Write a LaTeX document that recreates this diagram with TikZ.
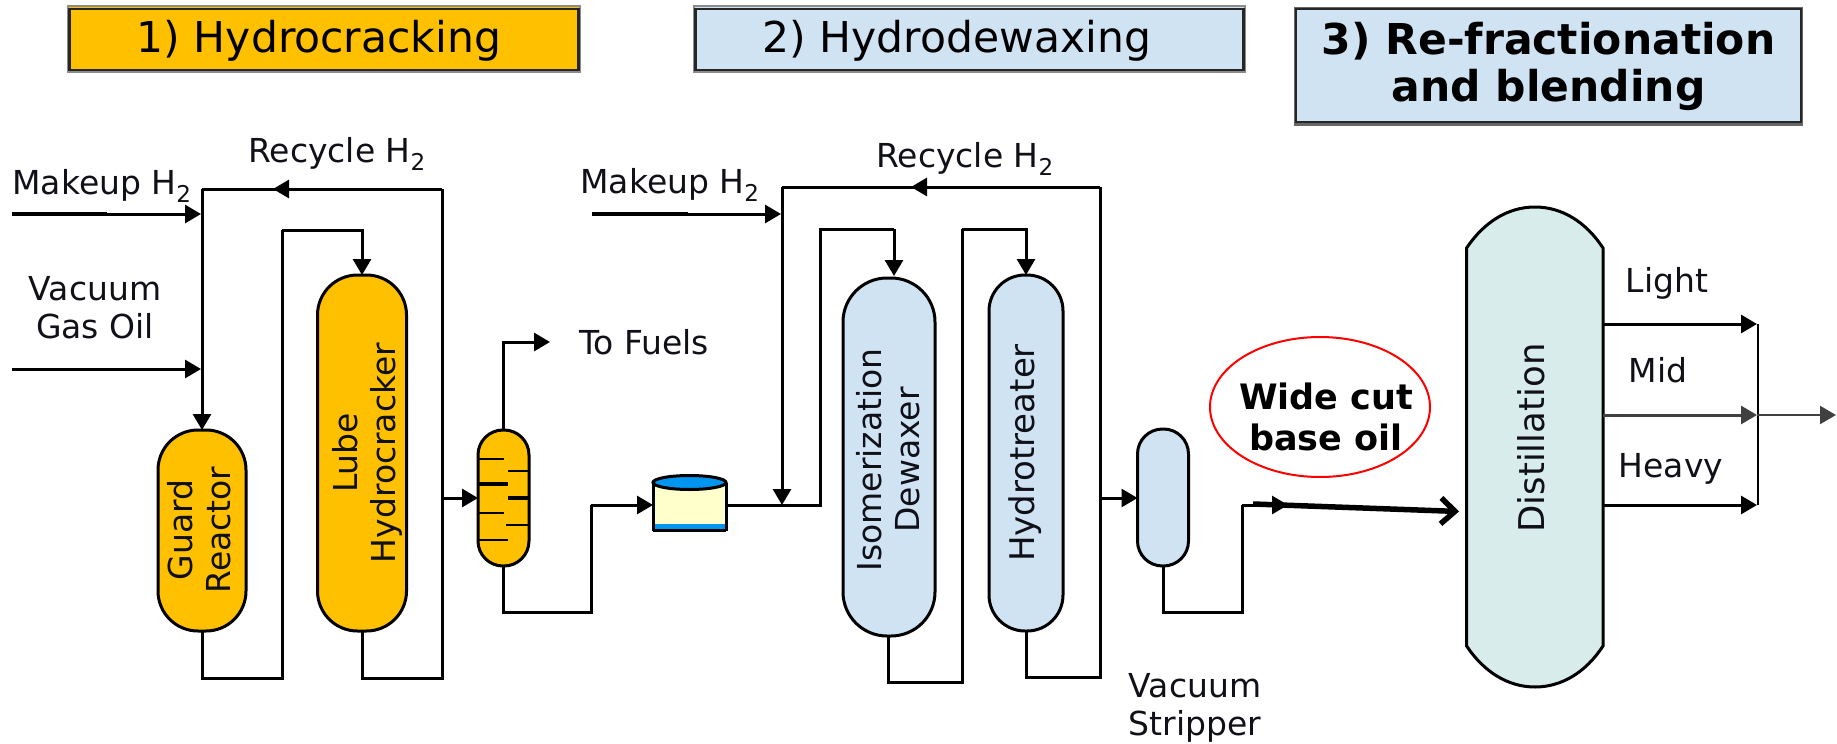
\documentclass[tikz,border=0pt]{standalone}
\usepackage{fontspec}
\setmainfont{DejaVu Sans}
\usetikzlibrary{arrows.meta,shapes.geometric}
\definecolor{amberfill}{HTML}{FFC000}
\definecolor{bluefill}{HTML}{D0E3F3}
\definecolor{distfill}{HTML}{D8ECEC}
\definecolor{drumblue}{HTML}{0096F0}
\definecolor{drumbody}{HTML}{FFFFCC}
\definecolor{inkc}{HTML}{101018}
\tikzset{
  flow/.style={line width=3pt,draw=black,line join=miter},
  tip/.style={-{Triangle[length=16pt,width=18pt]}},
  vessel/.style={draw=black,line width=3pt,inner sep=0pt,outer sep=0pt},
  lab/.style={font=\fontsize{33}{38}\selectfont,text=inkc,align=center,inner sep=0pt},
  vlab/.style={lab,rotate=90},
  head/.style={draw=black!45,line width=2.5pt,inner sep=0pt,outer sep=0pt},
  headin/.style={draw=black!85,line width=2.2pt},
  headtxt/.style={font=\fontsize{42.5}{47}\selectfont,text=black,align=center,inner sep=0pt},
  tray/.style={line width=2pt},
  traybold/.style={line width=3.6pt}
}
\newcommand{\Htwo}{H\textsubscript{2}}
\begin{document}
\begin{tikzpicture}[x=1pt,y=-1pt]
\useasboundingbox (0,0) rectangle (1837,744);
% headers
\node[head,fill=amberfill,minimum width=512pt,minimum height=66pt] (h1) at (324,39) {};
\draw[headin] (69.5,9) rectangle (578.5,70);
\node[head,fill=bluefill,minimum width=551pt,minimum height=66pt] (h2) at (969.5,39) {};
\draw[headin] (695.5,9) rectangle (1243.5,70);
\node[head,fill=bluefill,draw=black!60,minimum width=507pt,minimum height=116pt] (h3) at (1548.5,66.5) {};
\draw[headin,line width=1.5pt] (1296,9) rectangle (1801,122);
\node[headtxt] (t1) at (319,41) {1) Hydrocracking};
\node[headtxt] (t2) at (957,41) {2) Hydrodewaxing};
\node[headtxt,font=\fontsize{42.5}{47}\selectfont\bfseries] (t3) at (1548.5,66) {3) Re-fractionation\\and blending};
% vessels
\node[vessel,fill=amberfill,rounded corners=40pt,minimum width=88pt,minimum height=201pt] (guard) at (202,530.5) {};
\node[vessel,fill=amberfill,rounded corners=40pt,minimum width=89pt,minimum height=356pt] (lube) at (362,453) {};
\node[vessel,fill=amberfill,rounded corners=25pt,minimum width=51pt,minimum height=136pt] (flash) at (503.5,498) {};
\node[vessel,fill=bluefill,rounded corners=44pt,minimum width=92pt,minimum height=358pt] (dewax) at (889,457) {};
\node[vessel,fill=bluefill,rounded corners=36pt,minimum width=74pt,minimum height=356pt] (hydro) at (1026,453) {};
\node[vessel,fill=bluefill,rounded corners=25pt,minimum width=51pt,minimum height=137pt] (strip) at (1163,497.5) {};
% drum
\node[inner sep=0pt,outer sep=0pt,minimum width=74pt,minimum height=48pt] (drum) at (689.5,506) {};
\fill[drumbody] (653,483) rectangle (726,524);
\fill[drumblue] (653,524) rectangle (726,530);
\draw[line width=3pt] (653,483) -- (653,531) (726,483) -- (726,531) (653,530.5) -- (726,530.5);
\draw[line width=3pt,fill=drumblue] (689.5,482.5) ellipse [x radius=36.5,y radius=7];
% distillation
\node[inner sep=0pt,outer sep=0pt,minimum width=136.5pt,minimum height=480pt] (dist) at (1535,447) {};
\draw[vessel,fill=distfill] (1466.6,248) .. controls (1484,222) and (1508,207) .. (1535,207) .. controls (1562,207) and (1586,222) .. (1603,248) -- (1603,646) .. controls (1586,672) and (1562,687) .. (1535,687) .. controls (1508,687) and (1484,672) .. (1466.6,646) -- cycle;
\node[vlab,font=\fontsize{35.5}{40}\selectfont] (ldist) at (1531,438) {Distillation};
% trays
\foreach \a/\b/\c/\s in {478/504/459/tray,508/529/471/tray,478/508/484/traybold,508/529/498/traybold,478/504/513/tray,506/529/524.5/tray,478/508/540/tray}
  \draw[\s] (\a,\c) -- (\b,\c);
% vessel labels
\node[vlab] (lguard) at (199,530) {Guard\\Reactor};
\node[vlab] (llube) at (367,453) {Lube\\Hydrocracker};
\node[vlab] (ldewax) at (888,460) {Isomerization\\Dewaxer};
\node[vlab,font=\fontsize{34}{38}\selectfont] (lhydro) at (1025,453) {Hydrotreater};
% free ends and bends
\coordinate (mk1) at (12,214);
\coordinate (mk1t) at (107,214);
\coordinate (vg1) at (12,369);
\coordinate (j1) at (201,214);
\coordinate (j2) at (201,369);
\coordinate (top1) at (202,189);
\coordinate (rc1) at (442,189);
\coordinate (rc1b) at (442,678);
\coordinate (rc1a) at (273,189);
\coordinate (bot1) at (282,678);
\coordinate (in1) at (282,230);
\coordinate (fl1) at (442,498);
\coordinate (fu2) at (550,342);
\coordinate (bf2) at (591,612);
\coordinate (bf3) at (591,505);
\coordinate (dr1) at (653,505);
\coordinate (dr2) at (726,505);
\coordinate (mk2) at (592,214);
\coordinate (mk2t) at (688,214);
\coordinate (j3) at (781,214);
\coordinate (top2) at (782,187);
\coordinate (rc2) at (1100,187);
\coordinate (rc2a) at (911,187);
\coordinate (rc2b) at (1100,677);
\coordinate (j4) at (782,505);
\coordinate (o1) at (820,505);
\coordinate (o2) at (820,229);
\coordinate (o3) at (894,229);
\coordinate (o4) at (894,276);
\coordinate (d1) at (888,636);
\coordinate (d2) at (888,682);
\coordinate (d3) at (962,682);
\coordinate (d4) at (962,229);
\coordinate (fl2) at (1100,498);
\coordinate (s1) at (1163,612);
\coordinate (s2) at (1242,612);
\coordinate (s3) at (1242,505);
\coordinate (s4) at (1288,505);
\coordinate (s5) at (1253,504);
\coordinate (s6) at (1459,511.5);
\coordinate (li) at (1603,324);
\coordinate (mi) at (1603,415);
\coordinate (he) at (1603,505);
\coordinate (liE) at (1757,324);
\coordinate (miE) at (1757,415);
\coordinate (heE) at (1757,505);
\coordinate (colT) at (1758,324);
\coordinate (colB) at (1758,505);
\coordinate (out) at (1836,415);
% connectors section 1
\draw[flow,tip] (mk1) -- (j1);
\draw[line width=4.2pt] (mk1) -- (mk1t);
\draw[flow,tip] (vg1) -- (j2);
\draw[flow,tip] (top1) -- (guard.north);
\draw[flow] (top1) -- (rc1);
\draw[flow,tip] (rc1) -- (rc1a);
\draw[flow] (lube.south) |- (rc1b) -- (rc1);
\draw[flow] (guard.south) |- (bot1) -- (in1);
\draw[flow,tip] (in1) -| (lube.north);
\draw[flow,tip] (fl1) -- (flash.west |- fl1);
\draw[flow,tip] (flash.north) |- (fu2);
\draw[flow] (flash.south) |- (bf2) -- (bf3);
\draw[flow,tip] (bf3) -- (dr1);
% section 2
\draw[flow,tip] (mk2) -- (j3);
\draw[line width=4.2pt] (mk2) -- (mk2t);
\draw[flow,tip] (top2) -- (j4);
\draw[flow] (top2) -- (rc2);
\draw[flow,tip] (rc2) -- (rc2a);
\draw[flow] (hydro.south) |- (rc2b) -- (rc2);
\draw[flow] (dr2) -- (o1) -- (o2) -- (o3);
\draw[flow,tip] (o3) -- (o4);
\draw[flow] (d1) -- (d2) -- (d3) -- (d4);
\draw[flow,tip] (d4) -| (hydro.north);
\draw[flow,tip] (fl2) -- (strip.west |- fl2);
% section 3
\draw[flow] (strip.south) -- (s1) -- (s2) -- (s3);
\draw[flow,tip] (s3) -- (s4);
\draw[line width=5.5pt,-{Straight Barb[length=14pt,width=26pt,line width=5.5pt]}] (s5) -- (s6);
\draw[flow,tip] (li) -- (liE);
\draw[flow,tip,draw=black!75] (mi) -- (miE);
\draw[flow,tip] (he) -- (heE);
\draw[line width=2.2pt] (colT) -- (colB);
\draw[line width=2.2pt,black!75,-{Triangle[length=16pt,width=18pt]}] (miE) -- (out);
% ellipse
\node[draw=red,line width=2pt,fill=white,ellipse,minimum width=220pt,minimum height=140pt,inner sep=0pt] (wide) at (1320,407) {};
\node[lab,font=\fontsize{35}{41}\selectfont\bfseries,text=black] (lwide) at (1326,417) {Wide cut\\base oil};
% labels
\node[lab] (lmk1) at (102,186) {Makeup \Htwo};
\node[lab] (lrc1) at (337,154) {Recycle \Htwo};
\node[lab] (lvg) at (95,308) {Vacuum\\Gas Oil};
\node[lab] (lfuel) at (644,342) {To Fuels};
\node[lab] (lmk2) at (670,185) {Makeup \Htwo};
\node[lab] (lrc2) at (965,159) {Recycle \Htwo};
\node[lab] (lvs) at (1195,708) {Vacuum\\Stripper};
\node[lab] (llight) at (1667,283) {Light};
\node[lab] (lmid) at (1658,370) {Mid};
\node[lab] (lheavy) at (1671,469) {Heavy};
\end{tikzpicture}
\end{document}
